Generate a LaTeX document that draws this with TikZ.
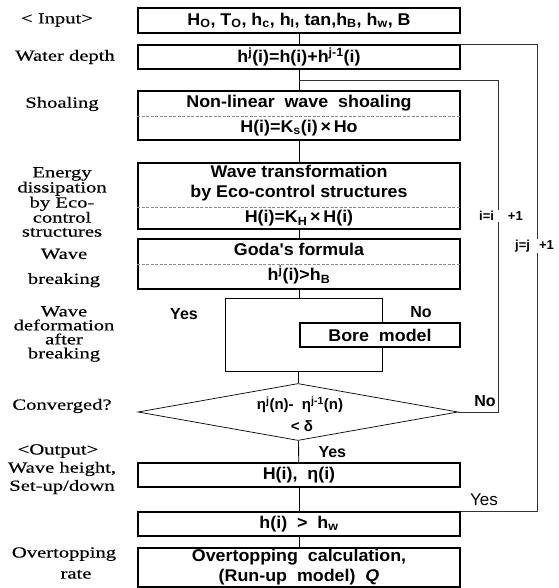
\documentclass[tikz,border=0pt]{standalone}
\usepackage{fontspec}
\setmainfont{Liberation Serif}
\setsansfont{Liberation Sans}
\newfontfamily\labfamily{Liberation Serif}[FakeStretch=1.33, FakeBold=0.4]
\newfontfamily\boxfamily{Liberation Sans}[FakeStretch=1.05]
\usetikzlibrary{shapes.geometric}

\begin{document}
\begin{tikzpicture}[x=1pt, y=-1pt,
    box/.style={draw, line width=2pt, minimum width=322, minimum height=24, inner sep=0pt,
      align=center, font=\boxfamily\bfseries\fontsize{17}{20}\selectfont},
    lab/.style={align=center, font=\labfamily\fontsize{15.5}{14}\selectfont},
    link/.style={line width=0.9pt},
    loopline/.style={line width=0.9pt, black!80},
    sep/.style={black!45, line width=0.5pt, dash pattern=on 3pt off 1.5pt},
    yn/.style={font=\sffamily\bfseries\fontsize{16}{18}\selectfont},
    cnt/.style={fill=white, inner sep=1pt, font=\sffamily\bfseries\fontsize{13}{15}\selectfont}]
  \useasboundingbox (0,0) rectangle (558,588);

  % main column
  \node[box, minimum height=25] (input) at (299,20.5)
    {H\textsubscript{O}, T\textsubscript{O}, h\textsubscript{c}, h\textsubscript{I}, tan,h\textsubscript{B}, h\textsubscript{w}, B};
  \node[box] (depth) at (299,57) {h\textsuperscript{j}(i)=h(i)+h\textsuperscript{j-1}(i)};
  \node[box, minimum height=49] (shoal) at (299,115.5)
    {Non-linear \ wave \ shoaling\\[5pt]H(i)=K\textsubscript{s}(i)\,×\,Ho};
  \node[box, minimum height=66] (eco) at (299,196)
    {Wave transformation\\by Eco-control structures\\[5pt]H(i)=K\textsubscript{H}\,×\,H(i)};
  \node[box, minimum height=50] (goda) at (299,264)
    {Goda's formula\\[5pt]h\textsuperscript{j}(i)>h\textsubscript{B}};
  \draw[sep] ([yshift=-0.5pt]shoal.west) -- ([yshift=-0.5pt]shoal.east);
  \draw[sep] ([yshift=-11pt]eco.west) -- ([yshift=-11pt]eco.east);
  \draw[sep] (goda.west) -- (goda.east);

  % breaking branch
  \node[draw, line width=0.7pt, minimum width=157, minimum height=73, inner sep=0pt] (split) at (303.5,334.5) {};
  \node[box, minimum width=160, fill=white] (bore) at (380,335) {Bore \ model};
  \node[yn] (yes1) at (184,314) {Yes};
  \node[yn] (no1) at (421,312) {No};

  % convergence test
  \node[draw, diamond, line width=0.7pt, minimum width=320, minimum height=57, inner sep=0pt, shape aspect=5.6] (decide) at (298,412) {};
  \node[align=center, font=\sffamily\bfseries\fontsize{15}{22}\selectfont] (cond) at (300,414)
    {η\textsuperscript{j}(n)-\ \ η\textsuperscript{j-1}(n)\\\hspace*{4pt}< δ};
  \node[yn] (no2) at (485,401) {No};
  \node[yn, anchor=west] (yes2) at (315,452) {Yes};

  % output
  \node[box] (out) at (299,475) {H(i), \ η(i)};
  \node[box] (hw) at (299,524) {h(i) \ > \ h\textsubscript{w}};
  \node[box, minimum height=39] (over) at (299,567.5)
    {Overtopping \ calculation,\\(Run-up \ model) \ \textit{Q}};
  \node[font=\sffamily\fontsize{17}{18}\selectfont] (yes3) at (484,500) {Yes};

  % connectors
  \draw[link] (input) -- (depth);
  \draw[link] (depth) -- (shoal);
  \draw[link] (shoal) -- (eco);
  \draw[link] (eco) -- (goda);
  \draw[link] (goda) -- (goda |- split.north);
  \draw[link] (decide.north |- split.south) -- (decide);
  \draw[link] (decide) -- (out);
  \draw[link] (out) -- (hw);
  \draw[link] (hw) -- (over);

  % iteration loops
  \coordinate (back) at (299,80);
  \coordinate (icol) at (498,0);
  \coordinate (jcol) at (537,0);
  \draw[loopline] (decide.east) -| (icol |- back) -- (back);
  \draw[loopline] (hw.north east) -| (jcol |- depth.north east) -- (depth.north east);
  \node[cnt] (inc1) at (501,216) {i=i\hspace{14pt}+1};
  \node[cnt] (inc2) at (534.5,246) {j=j\hspace{9pt}+1};

  % step names
  \node[lab] (l1) at (57,20) {< Input>};
  \node[lab] (l2) at (65,57) {Water depth};
  \node[lab] (l3) at (62,104) {Shoaling};
  \node[lab] (l4) at (62,202) {Energy\\dissipation\\by Eco-\\control\\structures};
  \node[lab] (l5) at (64,268) {Wave\\[11pt]breaking};
  \node[lab] (l6) at (64,334) {Wave\\deformation\\after\\breaking};
  \node[lab] (l7) at (62,406) {Converged?};
  \node[lab] (l8) at (58,451) {<Output>};
  \node[lab] (l9) at (62,478) {Wave height,\\[3pt]Set-up/down};
  \node[lab] (l10) at (64,563) {Overtopping\\[7pt]\hspace*{24pt}rate};
\end{tikzpicture}
\end{document}
